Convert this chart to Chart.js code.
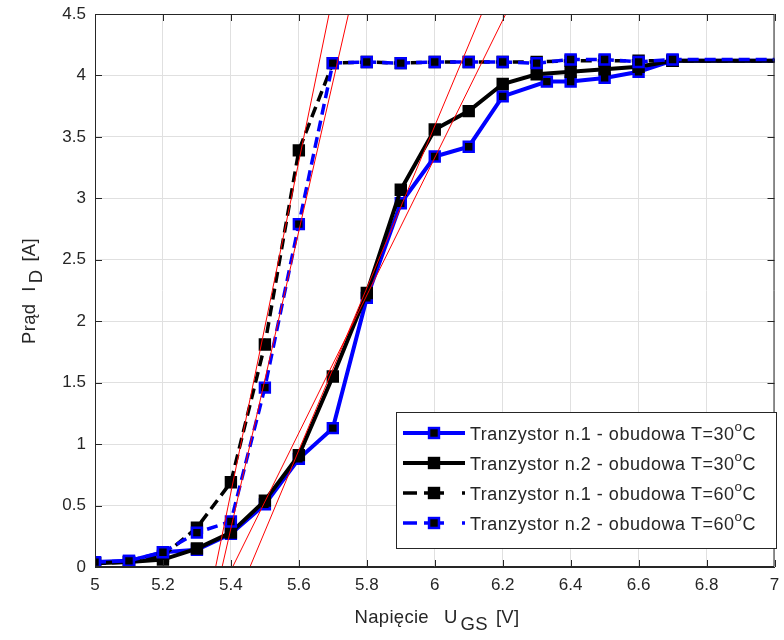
<!DOCTYPE html>
<html>
<head>
<meta charset="utf-8">
<script src="https://cdn.jsdelivr.net/npm/chart.js@4.4.1/dist/chart.umd.min.js"></script>
<style>
  html, body { margin: 0; padding: 0; background: #fff; }
  #wrap { width: 784px; height: 640px; }
</style>
</head>
<body>
<div id="wrap"><canvas id="chart" width="784" height="640"></canvas></div>
<script>
// Napięcie bramki U_GS [V] (ostatni punkt leży poza osią, linia dochodzi do krawędzi)
const uGS = [5.0, 5.1, 5.2, 5.3, 5.4, 5.5, 5.6, 5.7, 5.8, 5.9, 6.0, 6.1, 6.2, 6.3, 6.4, 6.5, 6.6, 6.7, 7.1];
const uGS_t1_30 = [5.0, 5.1, 5.2, 5.3, 5.4, 5.5, 5.6, 5.7, 5.8, 5.9, 6.0, 6.1, 6.2, 6.33, 6.4, 6.5, 6.6, 6.7, 7.1];

// Prąd drenu I_D [A]
const iD_t1_30 = [0.04, 0.05, 0.12, 0.14, 0.27, 0.51, 0.88, 1.13, 2.19, 2.96, 3.34, 3.42, 3.83, 3.95, 3.95, 3.98, 4.03, 4.12, 4.12];
const iD_t2_30 = [0.03, 0.04, 0.06, 0.15, 0.28, 0.54, 0.91, 1.55, 2.23, 3.07, 3.56, 3.71, 3.93, 4.01, 4.03, 4.05, 4.07, 4.12, 4.12];
const iD_t1_60 = [0.03, 0.04, 0.09, 0.32, 0.69, 1.81, 3.39, 4.10, 4.11, 4.10, 4.11, 4.11, 4.11, 4.11, 4.12, 4.12, 4.12, 4.12, 4.12];
const iD_t2_60 = [0.04, 0.05, 0.12, 0.28, 0.37, 1.46, 2.79, 4.10, 4.11, 4.10, 4.11, 4.11, 4.11, 4.10, 4.13, 4.13, 4.11, 4.13, 4.13];

// Styczne: napięcie przy I_D = 0 i przy I_D = 4.5
const tangentU0 = [5.355, 5.374, 5.405, 5.456];
const tangentU1 = [5.689, 5.746, 6.209, 6.138];
const tangentI = [0, 4.5];

const seriesNames = [
  'Tranzystor n.1 - obudowa T=30',
  'Tranzystor n.2 - obudowa T=30',
  'Tranzystor n.1 - obudowa T=60',
  'Tranzystor n.2 - obudowa T=60'
];

const xTicks = [5, 5.2, 5.4, 5.6, 5.8, 6, 6.2, 6.4, 6.6, 6.8, 7];
const yTicks = [0, 0.5, 1, 1.5, 2, 2.5, 3, 3.5, 4, 4.5];

const FONT = "'Liberation Sans', Arial, sans-serif";
const TEXT = '#262626';

function pairs(xs, ys) {
  return xs.map((x, i) => ({ x: x, y: ys[i] }));
}

function series(label, xs, ys, color, dashed, order) {
  return {
    label: label,
    data: pairs(xs, ys),
    borderColor: color,
    borderWidth: dashed ? 3.5 : 4,
    borderDash: dashed ? [11, 6] : [],
    pointStyle: 'rect',
    pointRadius: 7,
    pointBackgroundColor: '#000',
    pointBorderColor: color,
    pointBorderWidth: 2.5,
    order: order
  };
}

const datasets = [
  series(seriesNames[0], uGS_t1_30, iD_t1_30, '#0000ff', false, 4),
  series(seriesNames[1], uGS, iD_t2_30, '#000000', false, 3),
  series(seriesNames[2], uGS, iD_t1_60, '#000000', true, 2),
  series(seriesNames[3], uGS, iD_t2_60, '#0000ff', true, 1)
];

// czerwone styczne rysowane na wierzchu
tangentU0.forEach((u0, i) => {
  datasets.push({
    label: 'styczna ' + (i + 1),
    data: pairs([u0, tangentU1[i]], tangentI),
    borderColor: '#ff0000',
    borderWidth: 1,
    pointRadius: 0,
    order: 0
  });
});

// tekst z indeksem dolnym / górnym; gap = dodatkowy odstęp przed fragmentem
function drawRich(ctx, parts, x, y, size, align, spacing) {
  ctx.letterSpacing = (spacing || 0) + 'px';
  const fontOf = p => (p.sub || p.sup ? size * (p.scale || 0.75) : size) + 'px ' + FONT;
  const widths = parts.map(p => {
    ctx.font = fontOf(p);
    return ctx.measureText(p.t).width + (p.gap || 0);
  });
  const total = widths.reduce((a, b) => a + b, 0);
  let cx = align === 'center' ? x - total / 2 : x;
  ctx.textAlign = 'left';
  ctx.textBaseline = 'alphabetic';
  parts.forEach((p, i) => {
    ctx.font = fontOf(p);
    const dy = p.sub ? size * 0.4 : (p.sup ? -size * 0.45 : 0);
    ctx.fillText(p.t, cx + (p.gap || 0), y + dy);
    cx += widths[i];
  });
  ctx.letterSpacing = '0px';
}

// ramka osi z podziałką do środka
const axesBox = {
  id: 'axesBox',
  afterDatasetsDraw(chart) {
    const { ctx, chartArea: a, scales: { x, y } } = chart;
    ctx.save();
    ctx.strokeStyle = TEXT;
    ctx.lineWidth = 1;
    ctx.beginPath();
    ctx.rect(a.left + 0.5, a.top + 0.5, a.right - a.left - 1, a.bottom - a.top - 1);
    const len = 7;
    xTicks.forEach(v => {
      const px = Math.round(x.getPixelForValue(v)) + 0.5;
      ctx.moveTo(px, a.bottom); ctx.lineTo(px, a.bottom - len);
      ctx.moveTo(px, a.top); ctx.lineTo(px, a.top + len);
    });
    yTicks.forEach(v => {
      const py = Math.round(y.getPixelForValue(v)) + 0.5;
      ctx.moveTo(a.left, py); ctx.lineTo(a.left + len, py);
      ctx.moveTo(a.right, py); ctx.lineTo(a.right - len, py);
    });
    ctx.stroke();
    ctx.restore();
  }
};

// tytuły osi i legenda
const labelsAndLegend = {
  id: 'labelsAndLegend',
  afterDraw(chart) {
    const ctx = chart.ctx;
    ctx.save();
    ctx.fillStyle = TEXT;

    drawRich(ctx, [
      { t: 'Napięcie' },
      { t: 'U', gap: 15 },
      { t: 'GS', sub: true, scale: 1, gap: 3 },
      { t: '[V]', gap: 8 }
    ], 437, 623, 18.5, 'center', 0.3);

    ctx.save();
    ctx.translate(35, 291);
    ctx.rotate(-Math.PI / 2);
    drawRich(ctx, [
      { t: 'Prąd' },
      { t: 'I', gap: 12 },
      { t: 'D', sub: true, scale: 1, gap: 3 },
      { t: '[A]', gap: 8 }
    ], 0, 0, 18.5, 'center', 0.3);
    ctx.restore();

    // legenda
    const box = { left: 396, top: 412, right: 776, bottom: 548 };
    ctx.fillStyle = '#fff';
    ctx.fillRect(box.left, box.top, box.right - box.left, box.bottom - box.top);
    ctx.strokeStyle = TEXT;
    ctx.lineWidth = 1;
    ctx.strokeRect(box.left + 0.5, box.top + 0.5, box.right - box.left, box.bottom - box.top);

    chart.data.datasets.slice(0, 4).forEach((ds, i) => {
      const cy = 433 + i * 30;
      const dashed = ds.borderDash.length > 0;
      ctx.strokeStyle = ds.borderColor;
      ctx.lineWidth = ds.borderWidth;
      ctx.beginPath();
      if (dashed) {
        ctx.moveTo(403, cy); ctx.lineTo(417, cy);
        ctx.moveTo(424, cy); ctx.lineTo(444, cy);
        ctx.moveTo(462, cy); ctx.lineTo(465, cy);
      } else {
        ctx.moveTo(403, cy); ctx.lineTo(465, cy);
      }
      ctx.stroke();
      const s = Math.SQRT2 * ds.pointRadius;
      ctx.fillStyle = '#000';
      ctx.fillRect(434 - s / 2, cy - s / 2, s, s);
      ctx.lineWidth = ds.pointBorderWidth;
      ctx.strokeStyle = ds.pointBorderColor;
      ctx.strokeRect(434 - s / 2, cy - s / 2, s, s);

      ctx.fillStyle = TEXT;
      drawRich(ctx, [{ t: ds.label }, { t: 'o', sup: true }, { t: 'C' }], 470, cy + 6.5, 18, 'left', 0.5);
    });
    ctx.restore();
  }
};

new Chart(document.getElementById('chart'), {
  type: 'line',
  data: { datasets: datasets },
  options: {
    responsive: false,
    animation: false,
    events: [],
    layout: { padding: { left: 0, top: 14, right: 7, bottom: 0 } },
    plugins: {
      legend: { display: false },
      tooltip: { enabled: false }
    },
    scales: {
      x: {
        type: 'linear',
        min: 5,
        max: 7,
        afterBuildTicks: s => { s.ticks = xTicks.map(v => ({ value: v })); },
        afterFit: s => { s.height = 73; s.paddingLeft = 0; s.paddingRight = 0; },
        ticks: {
          padding: 8,
          color: TEXT,
          font: { family: FONT, size: 17 },
          maxRotation: 0,
          callback: v => String(+v.toFixed(1))
        },
        grid: { color: '#e0e0e0', drawTicks: false },
        border: { color: TEXT, width: 1 }
      },
      y: {
        type: 'linear',
        min: 0,
        max: 4.5,
        afterBuildTicks: s => { s.ticks = yTicks.map(v => ({ value: v })); },
        afterFit: s => { s.width = 95; s.paddingTop = 0; s.paddingBottom = 0; },
        ticks: {
          padding: 9,
          color: TEXT,
          font: { family: FONT, size: 17 },
          callback: v => String(+v.toFixed(1))
        },
        grid: { color: '#e0e0e0', drawTicks: false },
        border: { color: TEXT, width: 1 }
      }
    }
  },
  plugins: [axesBox, labelsAndLegend]
});
</script>
</body>
</html>
